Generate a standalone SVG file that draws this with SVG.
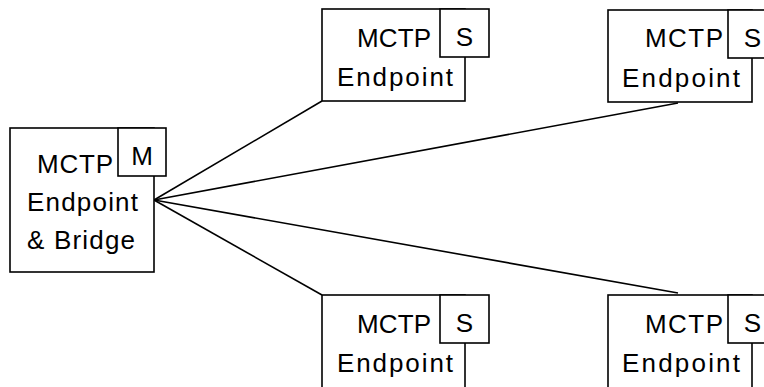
<svg xmlns="http://www.w3.org/2000/svg" width="764" height="387" viewBox="0 0 764 387">
  <style>
    .box { fill: #ffffff; stroke: #000000; stroke-width: 1.6; }
    .link { fill: none; stroke: #000000; stroke-width: 1.6; }
    .lbl { font-family: "Liberation Sans", Arial, sans-serif; font-size: 26px; fill: #000000; }
  </style>
  <rect width="764" height="387" fill="#ffffff"/>

  <!-- links from the bridge to each endpoint -->
  <g id="connectors">
    <line class="link" x1="154" y1="200" x2="322" y2="101"/>
    <line class="link" x1="154" y1="200" x2="678" y2="103"/>
    <line class="link" x1="154" y1="200" x2="322" y2="295"/>
    <line class="link" x1="154" y1="200" x2="678" y2="293"/>
  </g>

  <!-- bus owner: endpoint and bridge -->
  <g id="bridge">
    <rect class="box" x="10" y="128" width="144" height="144"/>
    <rect class="box" x="118" y="128" width="48" height="48"/>
    <text class="lbl" x="142" y="165" text-anchor="middle">M</text>
    <text class="lbl" x="37" y="173" textLength="76" lengthAdjust="spacing">MCTP</text>
    <text class="lbl" x="27" y="211" textLength="111" lengthAdjust="spacing">Endpoint</text>
    <text class="lbl" x="27" y="249" textLength="108" lengthAdjust="spacing">&amp; Bridge</text>
  </g>

  <g id="ep-top-mid">
    <rect class="box" x="322" y="9" width="143" height="92"/>
    <rect class="box" x="440" y="9" width="49" height="48"/>
    <text class="lbl" x="464.5" y="46" text-anchor="middle">S</text>
    <text class="lbl" x="357" y="47" textLength="74" lengthAdjust="spacing">MCTP</text>
    <text class="lbl" x="337" y="86" textLength="116" lengthAdjust="spacing">Endpoint</text>
  </g>

  <g id="ep-top-right">
    <rect class="box" x="608" y="10" width="144" height="92"/>
    <rect class="box" x="728" y="10" width="49" height="48"/>
    <text class="lbl" x="752.5" y="47" text-anchor="middle">S</text>
    <text class="lbl" x="645" y="47" textLength="78" lengthAdjust="spacing">MCTP</text>
    <text class="lbl" x="622" y="87" textLength="118" lengthAdjust="spacing">Endpoint</text>
  </g>

  <g id="ep-bottom-mid">
    <rect class="box" x="322" y="295" width="143" height="100"/>
    <rect class="box" x="440" y="295" width="49" height="48"/>
    <text class="lbl" x="464.5" y="332" text-anchor="middle">S</text>
    <text class="lbl" x="357" y="333" textLength="74" lengthAdjust="spacing">MCTP</text>
    <text class="lbl" x="337" y="372" textLength="116" lengthAdjust="spacing">Endpoint</text>
  </g>

  <g id="ep-bottom-right">
    <rect class="box" x="608" y="295" width="144" height="100"/>
    <rect class="box" x="728" y="295" width="49" height="48"/>
    <text class="lbl" x="752.5" y="332" text-anchor="middle">S</text>
    <text class="lbl" x="645" y="333" textLength="78" lengthAdjust="spacing">MCTP</text>
    <text class="lbl" x="622" y="372" textLength="118" lengthAdjust="spacing">Endpoint</text>
  </g>
</svg>
